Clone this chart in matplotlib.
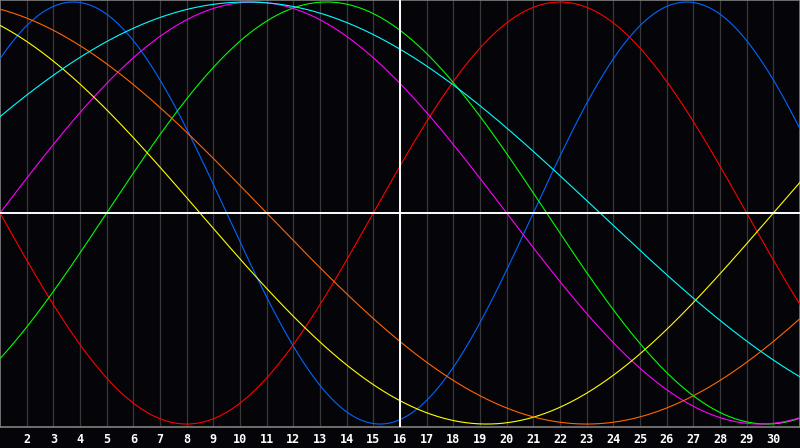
import numpy as np
import matplotlib
matplotlib.use("Agg")
import matplotlib.pyplot as plt

# === Chart data (biorhythm cycles) ===
days = list(range(2, 31))          # labelled grid days
today = 16
periods = [23, 28, 33, 38, 43, 48, 53]
phase_day1 = [3, 14, 29, 0, 14, 14, 4]   # cycle position at day 1
colors = ["#0066ff", "#ff0000", "#00ff00", "#ff00ff", "#ffff00", "#ff6600", "#00ffff"]

BG = "#050408"
GRID = "#383838"
BORDER = "#808080"

fig = plt.figure(figsize=(8, 4.48), dpi=100, facecolor=BG)
ax = fig.add_axes([0, 21 / 448, 1, 427 / 448], facecolor=BG)

t = np.linspace(1, 31, 1200)
for per, ph, col in zip(periods, phase_day1, colors):
    ax.plot(t, np.sin(2 * np.pi * (t - 1 + ph) / per), color=col, lw=0.8, zorder=3)

for d in days:
    ax.axvline(d, color=GRID, lw=0.9, zorder=1)
ax.axhline(0, color="white", lw=1.4, zorder=4)
ax.axvline(today, color="white", lw=1.4, zorder=4)

ax.set_xlim(1, 31)
ax.set_ylim(-1.014, 1.0095)
ax.set_xticks(days)
ax.set_xticklabels([str(d) for d in days], color="white", fontsize=8.5,
                   fontweight="bold", family="DejaVu Sans Mono")
ax.tick_params(axis="x", length=0, pad=4)
ax.set_yticks([])
for s in ax.spines.values():
    s.set_color(BORDER)
    s.set_linewidth(1.2)

fig.savefig("out.png", dpi=100, facecolor=BG)
